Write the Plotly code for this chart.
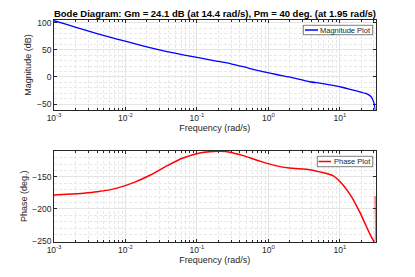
import plotly.graph_objects as go

# ---- data ----
freq = [0.001, 0.0015, 0.0026, 0.004, 0.0076, 0.013, 0.022, 0.038, 0.064,
        0.11, 0.152, 0.21, 0.3, 0.445, 0.76, 1.3, 1.95, 3.8, 5.25, 8.0,
        11.1, 14.4, 19.1, 23.0, 26.3, 28.0, 29.9, 31.0, 31.4159]
mag_db = [103.7, 96.8, 87.3, 80.0, 69.9, 61.8, 54.0, 46.8, 40.8,
          35.0, 31.5, 28.1, 24.2, 18.8, 11.0, 4.5, 0.0, -8.9, -11.5, -15.5,
          -19.5, -23.5, -27.5, -30.5, -34.5, -38.0, -47.0, -56.0, -61.0]
phase_deg = [-178.0, -177.0, -175.3, -173.2, -167.4, -158.8, -147.3, -132.6, -120.3,
             -112.5, -110.3, -109.8, -111.5, -116.5, -125.2, -132.6, -136.0, -138.5, -142.0, -148.0,
             -162.5, -180.0, -205.5, -225.0, -239.0, -245.0, -250.5, -251.5, -180.0]

x_tickvals = [1e-3, 1e-2, 1e-1, 1e0, 1e1]
x_ticktext = ["10<sup>-3</sup>", "10<sup>-2</sup>", "10<sup>-1</sup>", "10<sup>0</sup>", "10<sup>1</sup>"]
mag_ticks = [-50, 0, 50, 100]
phase_ticks = [-250, -200, -150]

title_text = "Bode Diagram: Gm = 24.1 dB (at 14.4 rad/s), Pm = 40 deg. (at 1.95 rad/s)"

# page body has an 8px default margin: lay the figure out in window pixels minus that offset
OFF = 8
W, H = 415 - 2 * OFF, 277 - 2 * OFF
def px(x):
    return (x - OFF) / W
def py(y):
    return 1 - (y - OFF) / H

AX = "#262626"
GRID = "#e4e4e4"
MGRID = "#e8e8e8"
FONT = "Liberation Sans, Arial, sans-serif"

minor_vals = [m * 10 ** e for e in range(-3, 2) for m in range(2, 10)]

def xaxis_cfg(anchor):
    return dict(
        type="log", range=[-3, 1.4995], domain=[px(54), px(375.5)], anchor=anchor,
        automargin=False, layer="below traces",
        tickmode="array", tickvals=x_tickvals, ticktext=x_ticktext,
        ticks="inside", ticklen=3, tickcolor=AX, tickwidth=0.6,
        showline=True, linecolor=AX, linewidth=0.7, mirror="allticks",
        showgrid=True, gridcolor=GRID, gridwidth=0.7,
        minor=dict(tickmode="array", tickvals=minor_vals, ticks="inside", ticklen=2,
                   tickcolor=AX, tickwidth=0.5, showgrid=True, gridcolor=MGRID,
                   griddash="3px,2px", gridwidth=0.6),
        tickfont=dict(family=FONT, size=8.5, color=AX),
        title=dict(text="Frequency (rad/s)", font=dict(family=FONT, size=9, color=AX), standoff=2),
        zeroline=False,
    )

def yaxis_cfg(anchor, dom, rng, tv, title):
    return dict(
        range=rng, domain=dom, anchor=anchor, automargin=False, layer="below traces",
        tickmode="array", tickvals=tv, ticks="inside", ticklen=3, tickcolor=AX, tickwidth=0.6,
        showline=True, linecolor=AX, linewidth=0.7, mirror="allticks",
        showgrid=True, gridcolor=GRID, gridwidth=0.7,
        minor=dict(dtick=10, showgrid=True, gridcolor=MGRID, griddash="3px,2px", gridwidth=0.6),
        tickfont=dict(family=FONT, size=8.5, color=AX),
        title=dict(text=title, font=dict(family=FONT, size=9, color=AX), standoff=3),
        zeroline=False,
    )

fig = go.Figure()
fig.add_trace(go.Scatter(x=freq, y=mag_db, mode="lines", name="Magnitude Plot",
                         line=dict(color="#0000ff", width=1.3, shape="spline", smoothing=0.6),
                         xaxis="x", yaxis="y", showlegend=False))
fig.add_trace(go.Scatter(x=freq, y=phase_deg, mode="lines", name="Phase Plot",
                         line=dict(color="#ff0000", width=1.5, shape="spline", smoothing=0.6),
                         xaxis="x2", yaxis="y2", showlegend=False))

shapes = []
annotations = []
# legend boxes (manual, MATLAB style)
def legend(x0, x1, y0, y1, lx0, lx1, color, text, tx):
    shapes.append(dict(type="rect", xref="paper", yref="paper", x0=px(x0), x1=px(x1),
                       y0=py(y1), y1=py(y0), line=dict(color=AX, width=0.6), fillcolor="white",
                       layer="above"))
    yc = (y0 + y1) / 2
    shapes.append(dict(type="line", xref="paper", yref="paper", x0=px(lx0), x1=px(lx1),
                       y0=py(yc), y1=py(yc), line=dict(color=color, width=1.5), layer="above"))
    annotations.append(dict(text=text, xref="paper", yref="paper", x=px(tx), y=py(yc),
                            xanchor="left", yanchor="middle", showarrow=False, borderpad=0,
                            font=dict(family=FONT, size=7.5, color=AX)))

legend(303.3, 372.7, 25.3, 34.7, 305, 318, "#0000ff", "Magnitude Plot", 318.5)
legend(317.3, 372.7, 156.3, 166.7, 318.5, 331, "#ff0000", "Phase Plot", 332.5)

fig.update_layout(
    width=W, height=H, autosize=False,
    margin=dict(l=0, r=0, t=0, b=0, pad=0),
    paper_bgcolor="white", plot_bgcolor="white",
    title=dict(text="<b>" + title_text + "</b>", x=px(215), xanchor="center", xref="paper",
               yref="paper", y=py(13.5), yanchor="middle", automargin=False,
               font=dict(family=FONT, size=9.5, color="#000000")),
    xaxis=xaxis_cfg("y"),
    yaxis=yaxis_cfg("x", [py(110), py(20)], [-61, 105], mag_ticks, "Magnitude (dB)"),
    xaxis2=xaxis_cfg("y2"),
    yaxis2=yaxis_cfg("x2", [py(241.5), py(151)], [-251, -109.3], phase_ticks, "Phase (deg.)"),
    shapes=shapes, annotations=annotations,
)

fig.write_html("out.html")
